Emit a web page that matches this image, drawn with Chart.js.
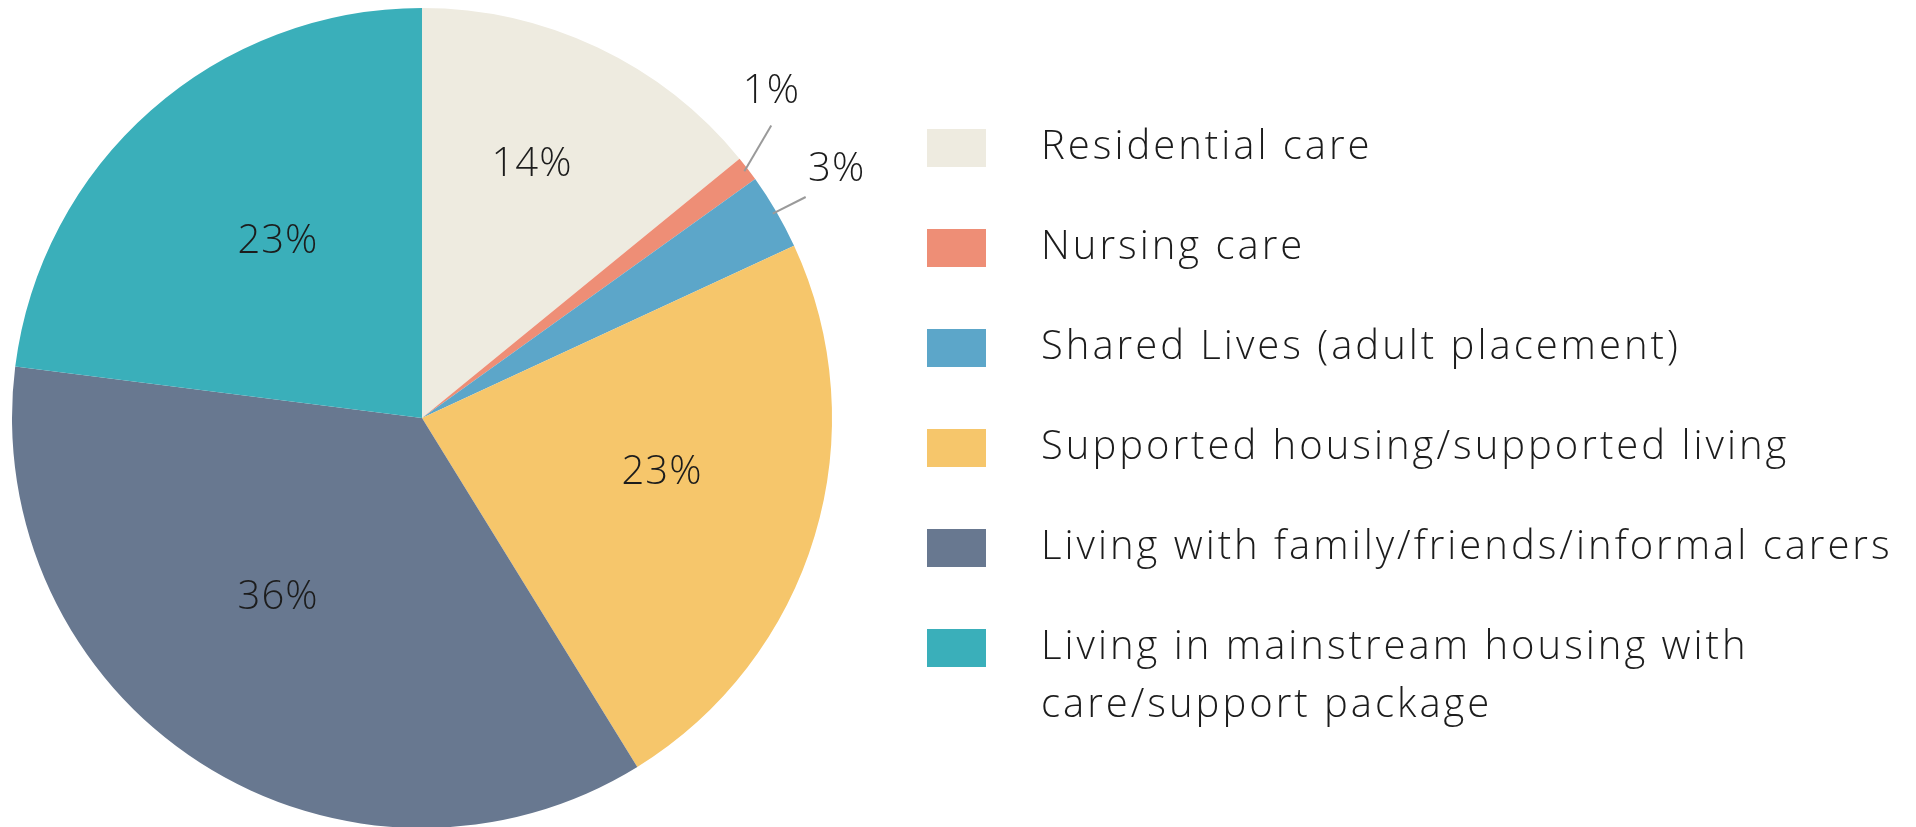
<!DOCTYPE html>
<html>
<head>
<meta charset="utf-8">
<script src="https://cdn.jsdelivr.net/npm/chart.js@4.4.1/dist/chart.umd.min.js"></script>
<style>
  html, body { margin: 0; padding: 0; background: #fff; overflow: hidden; }
  #wrap { width: 1916px; height: 840px; position: relative; }
</style>
</head>
<body>
<div id="wrap"><canvas id="pie"></canvas></div>
<script>
// data
const categories = [
    'Residential care',
    'Nursing care',
    'Shared Lives (adult placement)',
    'Supported housing/supported living',
    'Living with family/friends/informal carers',
    'Living in mainstream housing with care/support package'
];
const shares = [14.1, 1.0, 3.0, 23.1, 35.8, 23.0];
const shareLabels = ['14%', '1%', '3%', '23%', '36%', '23%'];
const colours = ['#EEEBE0', '#EE8E76', '#5CA6C9', '#F6C66B', '#687890', '#3AAFBA'];

// where each percent label sits: [angle nudge in degrees, radius fraction]
const labelPlace = [[-1.9, 0.673], [-5.6, 1.166], [-0.7, 1.179], [-4.0, 0.60], [5.9, 0.562], [2.1, 0.555]];
// leader line end for the outside labels: [angle nudge, radius fraction]
const leaderEnd = {1: [-2.5, 1.111], 2: [0.3, 1.08]};

const FONT = '300 40px "Open Sans", sans-serif';
const TEXT = '#1c1c1c';
const DEG = Math.PI / 180;

function polar(x, y, a, r) {
    return [x + Math.cos(a) * r, y + Math.sin(a) * r];
}

// percent labels, inside for big slices, outside with a leader line for small ones
const sliceLabels = {
    id: 'sliceLabels',
    afterDatasetsDraw(chart) {
        const ctx = chart.ctx;
        const meta = chart.getDatasetMeta(0);
        ctx.save();
        ctx.font = FONT;
        ctx.letterSpacing = '1px';
        ctx.fillStyle = TEXT;
        ctx.textAlign = 'center';
        ctx.textBaseline = 'middle';
        meta.data.forEach((arc, i) => {
            const {x, y, startAngle, endAngle, outerRadius} = arc.getProps(['x', 'y', 'startAngle', 'endAngle', 'outerRadius'], true);
            const mid = (startAngle + endAngle) / 2;
            if (leaderEnd[i]) {
                const [da, rf] = leaderEnd[i];
                ctx.strokeStyle = '#9a9a9a';
                ctx.lineWidth = 2;
                ctx.beginPath();
                ctx.moveTo(...polar(x, y, mid, outerRadius - 4));
                ctx.lineTo(...polar(x, y, mid + da * DEG, outerRadius * rf));
                ctx.stroke();
            }
            const [na, nr] = labelPlace[i];
            ctx.fillText(shareLabels[i], ...polar(x, y, mid + na * DEG, outerRadius * nr));
        });
        ctx.restore();
    }
};

// legend on the right, boxes + wrapped text
const sideLegend = {
    id: 'sideLegend',
    afterDraw(chart) {
        const ctx = chart.ctx;
        const boxX = 927, textX = 1041, top = 129, step = 100;
        ctx.save();
        ctx.font = FONT;
        ctx.letterSpacing = '3px';
        ctx.textBaseline = 'middle';
        ctx.textAlign = 'left';
        categories.forEach((name, i) => {
            const y0 = top + step * i;
            ctx.fillStyle = colours[i];
            ctx.fillRect(boxX, y0, 59, 38);
            ctx.fillStyle = TEXT;
            // simple word wrap
            const words = name.split(' ');
            const lines = [];
            let line = '';
            words.forEach(w => {
                const test = line ? line + ' ' + w : w;
                if (ctx.measureText(test).width > 865 && line) {
                    lines.push(line);
                    line = w;
                } else {
                    line = test;
                }
            });
            lines.push(line);
            lines.forEach((l, j) => ctx.fillText(l, textX, y0 + 19 + j * 58));
        });
        ctx.restore();
    }
};

new Chart(document.getElementById('pie'), {
    type: 'pie',
    data: {
        labels: categories,
        datasets: [{
            data: shares,
            backgroundColor: colours,
            borderWidth: 0
        }]
    },
    options: {
        responsive: true,
        maintainAspectRatio: false,
        animation: false,
        layout: {
            padding: {left: 12, top: 8, right: 1084, bottom: 12}
        },
        plugins: {
            legend: {display: false},
            tooltip: {enabled: false}
        }
    },
    plugins: [sliceLabels, sideLegend]
});
</script>
</body>
</html>
